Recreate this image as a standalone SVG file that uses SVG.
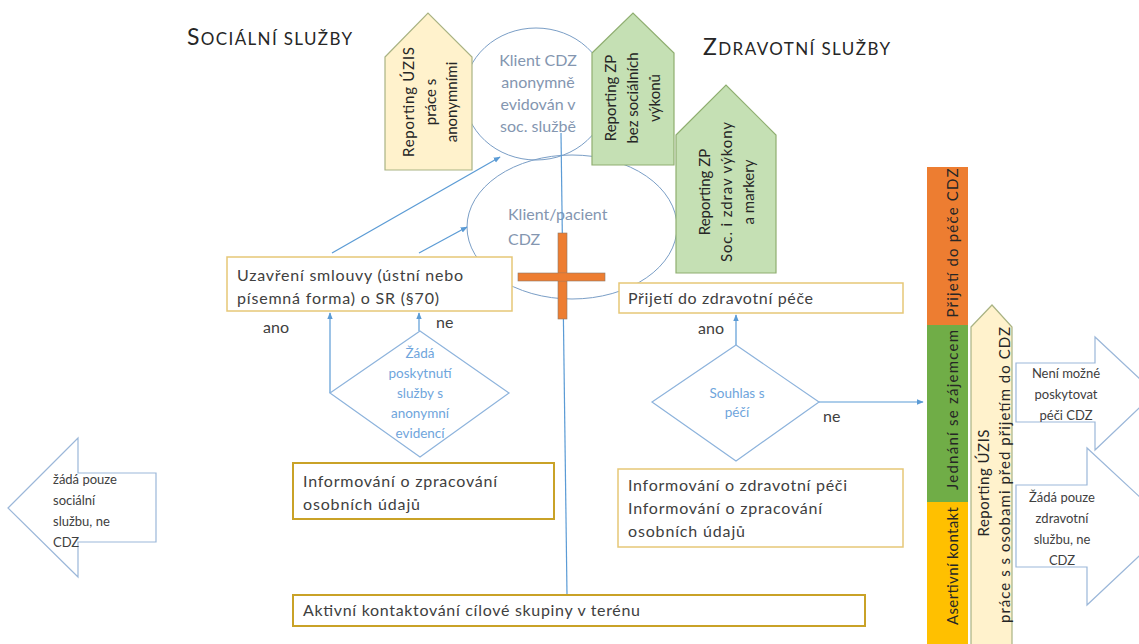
<svg xmlns="http://www.w3.org/2000/svg" width="1139" height="644" viewBox="0 0 1139 644">
<defs>
<marker id="ah" viewBox="0 0 10 10" refX="9" refY="5" markerWidth="7" markerHeight="7" orient="auto-start-reverse" markerUnits="userSpaceOnUse"><path d="M0,1 L10,5 L0,9 z" fill="#5b9bd5"/></marker>
<style>
text{font-family:Lato,"Liberation Sans",sans-serif;fill:#404040;font-size:16px}
.title{fill:#262626}
.ell{fill:none;stroke:#7a9ec6;stroke-width:1}
.ellt{fill:#8496b0;font-size:16px}
.pyel{fill:#fff2cc;stroke:#a9b383;stroke-width:1.2}
.pgrn{fill:#c5e0b4;stroke:#8fae70;stroke-width:1.2}
.rot{fill:#262626;font-size:15px;text-anchor:middle;dominant-baseline:central}
.box{fill:#fff;stroke:#e6c777;stroke-width:1.5}
.box2{fill:#fff;stroke:#c9a227;stroke-width:2}
.dia{fill:#fff;stroke:#8db3dc;stroke-width:1.2}
.diat{fill:#6fa5dc;font-size:13.5px;text-anchor:middle}
.con{fill:none;stroke:#5b9bd5;stroke-width:1.2}
.conh{fill:none;stroke:#5b9bd5;stroke-width:1.2;marker-end:url(#ah)}
.arr{fill:#fff;stroke:#9bb7d9;stroke-width:1.2}
.arrt{font-size:13px;fill:#404040}
</style>
</defs>

<g id="titles">
<text x="187" y="45" class="title" textLength="165" lengthAdjust="spacing"><tspan font-size="23">S</tspan><tspan font-size="17">OCIÁLNÍ SLUŽBY</tspan></text>
<text x="703" y="55" class="title" textLength="187" lengthAdjust="spacing"><tspan font-size="23">Z</tspan><tspan font-size="17">DRAVOTNÍ SLUŽBY</tspan></text>
</g>

<g id="ellipse-anon">
<ellipse cx="536" cy="94" rx="72" ry="66" class="ell"/>
<text class="ellt" text-anchor="middle"><tspan x="538" y="66">Klient CDZ</tspan><tspan x="538" y="88">anonymně</tspan><tspan x="538" y="110">evidován v</tspan><tspan x="538" y="132">soc. službě</tspan></text>
</g>

<g id="ellipse-klient">
<ellipse cx="572" cy="227" rx="105" ry="72" class="ell"/>
<text class="ellt" font-size="16.5"><tspan x="508" y="220">Klient/pacient</tspan><tspan x="508" y="245">CDZ</tspan></text>
</g>

<g id="pent-uzis">
<path d="M385,57 L428,13 L472,57 L472,170 L385,170 Z" class="pyel"/>
<text class="rot" transform="translate(408,102) rotate(-90)" textLength="110">Reporting ÚZIS</text>
<text class="rot" transform="translate(430,102) rotate(-90)">práce s</text>
<text class="rot" transform="translate(451,102) rotate(-90)">anonymními</text>
</g>

<g id="pent-zp1">
<path d="M592,53 L633,13 L674,53 L674,165 L592,165 Z" class="pgrn"/>
<text class="rot" transform="translate(610,98) rotate(-90)">Reporting ZP</text>
<text class="rot" transform="translate(632,98) rotate(-90)">bez sociálních</text>
<text class="rot" transform="translate(654,98) rotate(-90)">výkonů</text>
</g>

<g id="pent-zp2">
<path d="M676,135 L726,85 L776,135 L776,273 L676,273 Z" class="pgrn"/>
<text class="rot" transform="translate(704,192) rotate(-90)">Reporting ZP</text>
<text class="rot" transform="translate(726,192) rotate(-90)" textLength="140">Soc. i zdrav výkony</text>
<text class="rot" transform="translate(748,192) rotate(-90)">a markery</text>
</g>

<g id="connectors">
<line x1="561" y1="133" x2="567" y2="595" class="con"/>
<line x1="332" y1="253" x2="500" y2="157" class="conh"/>
<line x1="419" y1="253" x2="467" y2="227" class="conh"/>
<line x1="330" y1="393" x2="330" y2="313" class="conh"/>
<line x1="419" y1="331" x2="419" y2="313" class="conh"/>
<line x1="736" y1="345" x2="736" y2="315" class="conh"/>
<line x1="819" y1="402" x2="923" y2="402" class="conh"/>
</g>

<g id="cross">
<rect x="558" y="233" width="9" height="86" fill="#ed7d31" stroke="#8c7a6a" stroke-width="0.6"/>
<rect x="518" y="273" width="87" height="8" fill="#ed7d31" stroke="#8c7a6a" stroke-width="0.6"/>
<rect x="558.3" y="273.3" width="8.4" height="7.4" fill="#ed7d31"/>
</g>

<g id="box-smlouva">
<rect x="227" y="257" width="285" height="54" class="box"/>
<text><tspan x="237" y="281" textLength="226" lengthAdjust="spacing">Uzavření smlouvy (ústní nebo</tspan><tspan x="237" y="304" textLength="202" lengthAdjust="spacing">písemná forma) o SR (§70)</tspan></text>
</g>

<g id="labels">
<text x="263" y="333">ano</text>
<text x="436" y="328">ne</text>
<text x="698" y="334">ano</text>
<text x="823" y="422">ne</text>
</g>

<g id="diamond-anon">
<path d="M420,331 L509,393 L420,457 L330,393 Z" class="dia"/>
<text class="diat"><tspan x="420" y="358">Žádá</tspan><tspan x="420" y="378">poskytnutí</tspan><tspan x="420" y="398">služby s</tspan><tspan x="420" y="418">anonymní</tspan><tspan x="420" y="438">evidencí</tspan></text>
</g>

<g id="box-info-soc">
<rect x="293" y="463" width="261" height="56" class="box2"/>
<text><tspan x="303" y="487" textLength="194" lengthAdjust="spacing">Informování o zpracování</tspan><tspan x="303" y="510" textLength="117" lengthAdjust="spacing">osobních údajů</tspan></text>
</g>

<g id="box-aktivni">
<rect x="293" y="595" width="572" height="31" class="box2"/>
<text x="303" y="616" textLength="337" lengthAdjust="spacing">Aktivní kontaktování cílové skupiny v terénu</text>
</g>

<g id="box-prijeti">
<rect x="619" y="283" width="284" height="30" class="box"/>
<text x="628" y="304" textLength="185" lengthAdjust="spacing">Přijetí do zdravotní péče</text>
</g>

<g id="diamond-souhlas">
<path d="M736,345 L819,402 L736,461 L652,402 Z" class="dia"/>
<text class="diat"><tspan x="737" y="398">Souhlas s</tspan><tspan x="737" y="417">péčí</tspan></text>
</g>

<g id="box-info-zdr">
<rect x="618" y="469" width="285" height="78" class="box"/>
<text><tspan x="628" y="491" textLength="219" lengthAdjust="spacing">Informování o zdravotní péči</tspan><tspan x="628" y="514" textLength="194" lengthAdjust="spacing">Informování o zpracování</tspan><tspan x="628" y="537" textLength="117" lengthAdjust="spacing">osobních údajů</tspan></text>
</g>

<g id="arrow-left">
<path d="M8,508 L78,438 L78,473 L156,473 L156,542 L78,542 L78,577 Z" class="arr"/>
<text class="arrt"><tspan x="53" y="484">žádá pouze</tspan><tspan x="53" y="505">sociální</tspan><tspan x="53" y="526">službu, ne</tspan><tspan x="53" y="547">CDZ</tspan></text>
</g>

<g id="bar-prijeti">
<rect x="927" y="167" width="41" height="158" fill="#ed7d31"/>
<text class="rot" transform="translate(952,243) rotate(-90)" textLength="149" lengthAdjust="spacing">Přijetí do péče CDZ</text>
</g>
<g id="bar-jednani">
<rect x="927" y="325" width="41" height="177" fill="#70ad47"/>
<text class="rot" transform="translate(952,410) rotate(-90)" textLength="160" lengthAdjust="spacing">Jednání se zájemcem</text>
</g>
<g id="bar-asertivni">
<rect x="927" y="502" width="41" height="142" fill="#ffc000"/>
<text class="rot" transform="translate(952,566) rotate(-90)" textLength="118" lengthAdjust="spacing">Asertivní kontakt</text>
</g>

<g id="pent-uzis2">
<path d="M971,327 L992,305 L1012,327 L1012,650 L971,650 Z" class="pyel"/>
<text class="rot" transform="translate(983,483) rotate(-90)" textLength="107" lengthAdjust="spacing">Reporting ÚZIS</text>
<text class="rot" transform="translate(1004,475) rotate(-90)" textLength="296" lengthAdjust="spacing">práce s  s osobami před přijetím do CDZ</text>
</g>

<g id="arrow-neni">
<path d="M1016,363 L1095,363 L1095,337 L1155,393 L1095,450 L1095,422 L1016,422 Z" class="arr"/>
<text class="arrt" text-anchor="middle"><tspan x="1066" y="378">Není možné</tspan><tspan x="1066" y="399">poskytovat</tspan><tspan x="1066" y="420">péči CDZ</tspan></text>
</g>

<g id="arrow-zadapouze">
<path d="M1016,485 L1087,485 L1087,448 L1171,526 L1087,605 L1087,567 L1016,567 Z" class="arr"/>
<text class="arrt" text-anchor="middle"><tspan x="1062" y="502">Žádá pouze</tspan><tspan x="1062" y="523">zdravotní</tspan><tspan x="1062" y="544">službu, ne</tspan><tspan x="1062" y="565">CDZ</tspan></text>
</g>
</svg>
